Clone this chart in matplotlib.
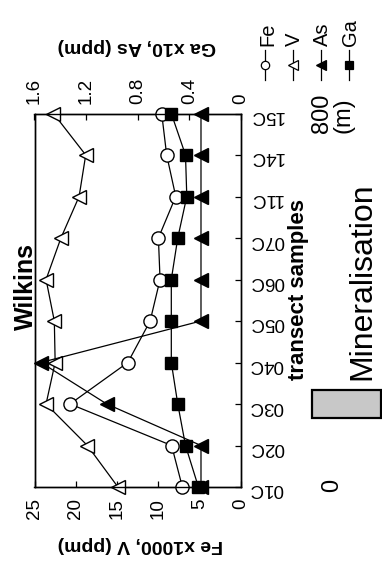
import matplotlib
matplotlib.use("Agg")
import matplotlib.pyplot as plt
from matplotlib.patches import Rectangle

plt.rcParams["font.family"] = ["Liberation Sans", "DejaVu Sans"]

# transect samples, 01C at the 0 m end, 15C at the 800 m end
samples = ["01C", "02C", "03C", "04C", "05C", "06C", "07C", "11C", "14C", "15C"]

# bottom axis: Fe x1000, V (ppm)
fe = [7.1, 8.4, 20.7, 13.7, 11.0, 9.8, 10.0, 7.9, 9.0, 9.6]
v = [14.9, 18.6, 23.6, 22.5, 22.6, 23.6, 21.8, 19.6, 18.8, 22.7]
# top axis: Ga x10, As (ppm)
as_ = [0.31, 0.31, 1.04, 1.55, 0.31, 0.31, 0.31, 0.31, 0.31, 0.31]
ga = [0.33, 0.43, 0.49, 0.54, 0.54, 0.54, 0.49, 0.42, 0.43, 0.54]

fe_ticks = [0, 5, 10, 15, 20, 25]
ga_ticks = [0, 0.4, 0.8, 1.2, 1.6]
ga_ticklabels = ["0", "0.4", "0.8", "1.2", "1.6"]

W, H = 382, 562
fig = plt.figure(figsize=(W / 100, H / 100), dpi=100)

# plot frame in pixels: x 34.5..241, y 113.5..487 (from top)
L, R, T, B = 34.5, 241.0, 113.5, 487.0
ax = fig.add_axes([L / W, (H - B) / H, (R - L) / W, (B - T) / H])
ax2 = ax.twiny()

pos = list(range(len(samples)))
lw = 0.9

ax.plot(fe, pos, "-o", color="black", mfc="white", mec="black", ms=9.5,
        lw=lw, mew=1.0, clip_on=False, zorder=3)
ax.plot(v, pos, "-<", color="black", mfc="white", mec="black", ms=10.5,
        lw=lw, mew=1.0, clip_on=False, zorder=3)
ax2.plot(as_, pos, "-<", color="black", mfc="black", ms=9.5,
         lw=lw, clip_on=False, zorder=3)
ax2.plot(ga, pos, "-s", color="black", mfc="black", ms=8,
         lw=lw, clip_on=False, zorder=4)

ax.set_xlim(25, 0)
ax2.set_xlim(1.6, 0)
ax.set_ylim(0, len(samples) - 1)

ax.set_xticks(fe_ticks)
ax.set_xticklabels([str(t) for t in fe_ticks], rotation=90, fontsize=13.5)
ax2.set_xticks(ga_ticks)
ax2.set_xticklabels(ga_ticklabels, rotation=90, fontsize=13.5)

ax.set_yticks(pos)
ax.set_yticklabels(samples, rotation=180, fontsize=13.5)
ax.yaxis.tick_right()
ax.tick_params(axis="y", which="both", left=False, right=True,
               direction="in", length=4, width=0.9, pad=6)
ax.tick_params(axis="x", direction="in", length=4, width=0.9, pad=8)
ax2.tick_params(axis="x", direction="in", length=4, width=0.9, pad=7)
for a in (ax, ax2):
    for s in a.spines.values():
        s.set_linewidth(1.0)

# overlay in pixel coordinates for the rotated annotations
ov = fig.add_axes([0, 0, 1, 1], zorder=-1)
ov.set_xlim(0, W)
ov.set_ylim(H, 0)
ov.axis("off")


def vtext(x, y, s, size, weight="normal", ha="center"):
    ov.text(x, y, s, rotation=90, rotation_mode="anchor", ha=ha,
            va="baseline", fontsize=size, fontweight=weight)


ov.text(140, 545, "Fe x1000, V (ppm)", rotation=180, ha="center",
        va="center", fontsize=14, fontweight="bold")
ov.text(137, 47, "Ga x10, As (ppm)", rotation=180, ha="center",
        va="center", fontsize=14, fontweight="bold")

vtext(33, 287, "Wilkins", 18, "bold")
vtext(53, 142, "e", 20)
vtext(304, 290, "transect samples", 16, "bold")
vtext(370, 281, "Mineralisation", 23)
vtext(328, 113, "800", 17)
vtext(350, 115, "(m)", 17)
vtext(338, 485, "0", 17)

ov.add_patch(Rectangle((312, 390), 69, 28, facecolor="#c8c8c8",
                       edgecolor="black", lw=1.6, clip_on=False))

# legend keys (rotated)
legend_items = [
    ("Fe", "o", "white", 6, 265, 273),
    ("V", "<", "white", 7, 293, 300),
    ("As", "<", "black", 7, 321, 328),
    ("Ga", "s", "black", 6, 349, 356),
]
for name, mk, fc, ms, xk, xb in legend_items:
    ov.plot([xk, xk], [50, 80], color="black", lw=lw)
    ov.plot([xk], [65], marker=mk, mfc=fc, mec="black", ms=ms, mew=0.9,
            color="black")
    vtext(xb, 46, name, 14.5, ha="left")

fig.savefig("out.png", dpi=100)
